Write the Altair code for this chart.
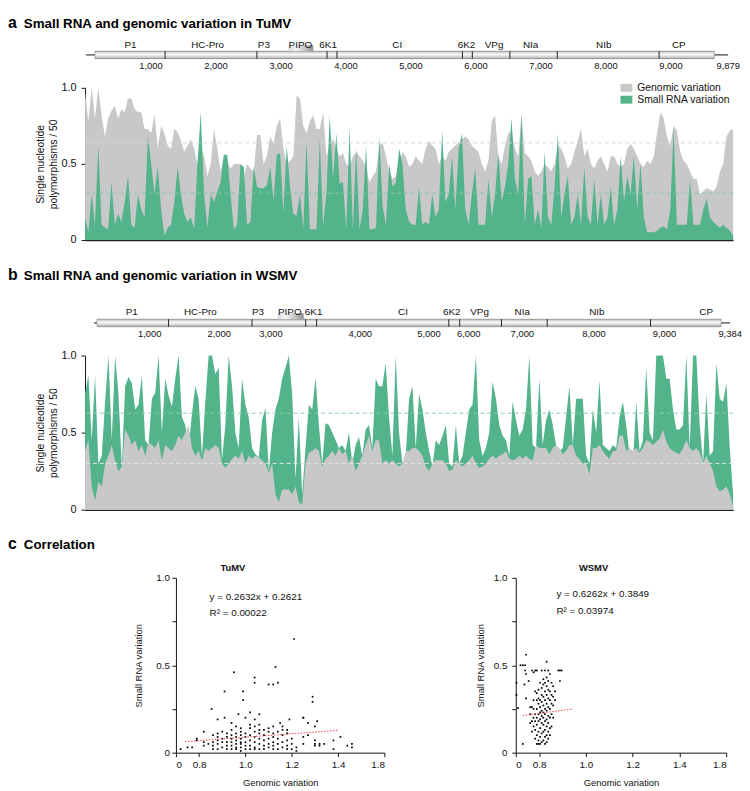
import altair as alt
import pandas as pd
import numpy as np

GREEN = "#53b38b"
GRAY = "#c8c8c8"
FONT = "Liberation Sans"
NARROW = "Liberation Sans Narrow, Liberation Sans"

# ---------------- Panel a : TuMV ----------------
tumv_length = 9879
tumv_genomic = [
    0.97, 0.78, 1.0, 0.8, 1.0, 0.82, 0.68, 0.8, 0.85, 0.88,
    0.8, 0.86, 0.84, 0.93, 0.93, 0.86, 0.84, 0.84, 0.73, 0.73,
    0.7, 0.83, 0.6, 0.75, 0.7, 0.62, 0.6, 0.73, 0.71, 0.65,
    0.58, 0.62, 0.66, 0.6, 0.5, 0.62, 0.55, 0.42, 0.5, 0.73,
    0.6, 0.45, 0.56, 0.52, 0.47, 0.5, 0.5, 0.5, 0.42, 0.5,
    0.47, 0.45, 0.69, 0.69, 0.5, 0.55, 0.68, 0.63, 0.75, 0.8,
    0.6, 0.5, 0.52, 0.55, 0.95, 0.93, 0.75, 0.7, 0.78, 0.82,
    0.73, 0.73, 0.84, 0.55, 0.62, 0.67, 0.6, 0.55, 0.57, 0.5,
    0.48, 0.55, 0.58, 0.55, 0.52, 0.48, 0.38, 0.42, 0.45,
    0.62, 0.64, 0.55, 0.45, 0.4, 0.42, 0.5, 0.58, 0.55, 0.48,
    0.5, 0.55, 0.52, 0.5, 0.6, 0.65, 0.62, 0.6, 0.5, 0.55,
    0.52, 0.58, 0.6, 0.62, 0.64, 0.66, 0.68, 0.66, 0.62, 0.6,
    0.58, 0.5, 0.45, 0.52, 0.78, 0.82, 0.55, 0.5, 0.62, 0.7,
    0.72, 0.6, 0.55, 0.83, 0.57, 0.55, 0.52, 0.45, 0.42, 0.45,
    0.5, 0.48, 0.45, 0.5, 0.62, 0.6, 0.55, 0.47, 0.5, 0.58,
    0.65, 0.73, 0.55, 0.6, 0.5, 0.47, 0.52, 0.55, 0.5, 0.45,
    0.55, 0.55, 0.5, 0.48, 0.5, 0.6, 0.63, 0.6, 0.55, 0.5,
    0.48, 0.52, 0.5, 0.55, 0.7, 0.84, 0.8, 0.68, 0.62, 0.75,
    0.72, 0.58, 0.52, 0.5, 0.45, 0.4, 0.4, 0.3, 0.32, 0.34,
    0.33, 0.32, 0.35, 0.45, 0.5, 0.68, 0.72, 0.73,
]
tumv_srna = [
    0.15, 0.05, 0.3, 0.1, 0.62, 0.1, 0.08, 0.07, 0.38, 0.1,
    0.17, 0.12, 0.25, 0.42, 0.1, 0.08, 0.3, 0.2, 0.15, 0.68,
    0.5, 0.3, 0.48, 0.2, 0.03, 0.08, 0.1, 0.25, 0.48, 0.3,
    0.17, 0.12, 0.15, 0.07, 0.5, 0.84, 0.3, 0.08, 0.3, 0.25,
    0.32, 0.38, 0.56, 0.56, 0.3, 0.07, 0.1, 0.5, 0.48, 0.1,
    0.12, 0.48, 0.35, 0.34, 0.34, 0.36, 0.48, 0.26, 0.56, 0.57,
    0.18, 0.62, 0.35, 0.17, 0.16, 0.3, 0.07, 0.65, 0.07, 0.07,
    0.07, 0.66, 0.1, 0.3, 0.82, 0.4, 0.7, 0.37, 0.38, 0.07,
    0.74, 0.07, 0.6, 0.07, 0.2, 0.62, 0.07, 0.07, 0.08,
    0.68, 0.22, 0.1, 0.5, 0.35, 0.38, 0.6, 0.5, 0.2, 0.12,
    0.1, 0.1, 0.35, 0.1, 0.12, 0.1, 0.3, 0.15, 0.2, 0.72,
    0.25, 0.3, 0.55, 0.2, 0.6, 0.7, 0.2, 0.1, 0.3, 0.47,
    0.1, 0.1, 0.1, 0.4, 0.15, 0.3, 0.57, 0.25, 0.35, 0.5,
    0.8, 0.4, 0.3, 0.83, 0.1, 0.4, 0.42, 0.1, 0.2, 0.08,
    0.58, 0.15, 0.1, 0.35, 0.7, 0.15, 0.3, 0.42, 0.1, 0.15,
    0.3, 0.1, 0.48, 0.15, 0.1, 0.4, 0.1, 0.3, 0.1, 0.15,
    0.35, 0.1, 0.2, 0.55, 0.25, 0.42, 0.3, 0.55, 0.2, 0.5,
    0.15, 0.05, 0.05, 0.05, 0.06, 0.08, 0.09, 0.07, 0.2, 0.73,
    0.1, 0.1, 0.1, 0.1, 0.4, 0.1, 0.1, 0.1, 0.2, 0.27,
    0.15, 0.12, 0.1, 0.08, 0.1, 0.08, 0.06, 0.03,
]
tumv_genomic_mean = 0.638
tumv_srna_mean = 0.307

tumv_genes = ["P1", "HC-Pro", "P3", "PIPO", "6K1", "CI", "6K2", "VPg", "NIa", "NIb", "CP"]
tumv_gene_label_pos = [684, 1870, 2736, 3298, 3724, 4788, 5852, 6278, 6840, 7965, 9120]
tumv_boundaries = [1216, 2629, 3708, 3861, 5791, 5943, 6521, 7250, 8816]
tumv_bar = [137, 9667]
tumv_pipo = [3116, 3496]
tumv_map_label_pos = [1000, 2000, 3000, 4000, 5000, 6000, 7000, 8000, 9000, 9879]
tumv_map_labels = ["1,000", "2,000", "3,000", "4,000", "5,000", "6,000", "7,000", "8,000", "9,000", "9,879"]
tumv_map_domain = [-15, 9955]

# ---------------- Panel b : WSMV ----------------
wsmv_length = 9384
wsmv_srna = [
    0.75, 0.87, 0.45, 0.87, 0.3, 0.35, 0.7, 1.0, 0.45, 1.0,
    0.75, 0.28, 0.8, 0.86, 0.82, 0.65, 0.68, 0.87, 0.45, 0.42,
    0.72, 0.76, 1.0, 0.5, 0.85, 0.74, 0.67, 0.85, 1.0, 0.6,
    0.55, 0.4, 0.62, 0.8, 0.72, 0.35, 0.7, 1.0, 1.0, 0.88,
    0.92, 0.32, 0.55, 1.0, 0.8, 0.5, 0.4, 0.85, 0.68, 0.6,
    0.4, 0.36, 0.34, 0.58, 0.66, 0.25, 0.5, 0.65, 0.72, 0.85,
    0.92, 1.0, 0.75, 0.2, 0.6, 0.1, 0.4, 0.68, 0.65, 0.86,
    0.55, 0.3, 0.56, 0.55, 0.5, 0.45, 0.4, 0.42, 0.38, 0.5,
    0.3, 0.42, 0.47, 0.35, 0.52, 0.55, 0.4, 0.85, 0.8,
    0.8, 0.95, 0.6, 0.35, 1.0, 0.5, 0.3, 0.35, 0.72, 0.8,
    0.4, 0.75, 0.65, 0.5, 0.38, 0.28, 0.45, 0.42, 0.48, 0.55,
    0.3, 0.28, 0.55, 0.3, 0.35, 0.5, 0.65, 0.68, 1.0, 0.45,
    0.35, 0.4, 0.5, 0.83, 0.72, 0.55, 0.48, 0.45, 0.35, 0.7,
    0.58, 0.48, 0.52, 0.65, 1.0, 0.42, 0.4, 0.85, 0.42, 0.58,
    0.65, 0.55, 0.42, 0.38, 0.4, 0.6, 0.8, 0.42, 0.72, 0.72,
    0.72, 0.35, 0.3, 0.65, 0.5, 0.84, 0.42, 0.4, 0.38, 0.42,
    0.4, 0.6, 0.7, 0.55, 0.35, 0.3, 0.7, 0.38, 0.45, 0.92,
    0.5, 0.45, 1.0, 1.0, 1.0, 0.85, 0.85, 0.65, 0.52, 0.52,
    0.55, 1.0, 0.4, 1.0, 1.0, 0.55, 0.3, 0.75, 0.35, 0.38,
    0.95, 0.72, 0.7, 0.82, 0.4, 0.1,
]
wsmv_genomic = [
    0.38, 0.45, 0.15, 0.06, 0.18, 0.15, 0.3, 0.35, 0.42, 0.32,
    0.25, 0.28, 0.52, 0.48, 0.42, 0.45, 0.38, 0.42, 0.35, 0.44,
    0.42, 0.4, 0.45, 0.32, 0.42, 0.4, 0.38, 0.42, 0.48, 0.45,
    0.5, 0.55, 0.4, 0.35, 0.38, 0.32, 0.4, 0.38, 0.4, 0.42,
    0.4, 0.3, 0.27, 0.3, 0.33, 0.35, 0.33, 0.38, 0.3, 0.35,
    0.33, 0.35, 0.34, 0.32, 0.3, 0.24, 0.3, 0.1, 0.05, 0.13,
    0.13, 0.13, 0.1, 0.15, 0.05, 0.03, 0.3, 0.37, 0.38, 0.4,
    0.38, 0.28, 0.33, 0.35, 0.38, 0.35, 0.4, 0.36, 0.38, 0.3,
    0.35, 0.25, 0.3, 0.35, 0.42, 0.48, 0.38, 0.45, 0.45,
    0.3, 0.32, 0.3, 0.32, 0.3, 0.28, 0.3, 0.38, 0.38, 0.4,
    0.4, 0.38, 0.35, 0.28, 0.25, 0.3, 0.32, 0.32, 0.32, 0.3,
    0.25, 0.26, 0.32, 0.3, 0.28, 0.3, 0.32, 0.35, 0.3, 0.27,
    0.28, 0.3, 0.33, 0.35, 0.33, 0.35, 0.36, 0.38, 0.33, 0.32,
    0.33, 0.35, 0.33, 0.35, 0.33, 0.32, 0.42, 0.4, 0.4, 0.4,
    0.36, 0.4, 0.42, 0.4, 0.36, 0.38, 0.42, 0.42, 0.35, 0.33,
    0.3, 0.3, 0.23, 0.4, 0.4, 0.42, 0.38, 0.35, 0.33, 0.38,
    0.38, 0.48, 0.48, 0.38, 0.4, 0.38, 0.4, 0.37, 0.4, 0.45,
    0.44, 0.42, 0.44, 0.46, 0.52, 0.44, 0.4, 0.38, 0.37, 0.36,
    0.4, 0.45, 0.4, 0.38, 0.4, 0.37, 0.3, 0.35, 0.3, 0.25,
    0.15, 0.12, 0.13, 0.15, 0.1, 0.02,
]
wsmv_srna_mean = 0.626
wsmv_genomic_mean = 0.30

wsmv_genes = ["P1", "HC-Pro", "P3", "PIPO", "6K1", "CI", "6K2", "VPg", "NIa", "NIb", "CP"]
wsmv_gene_label_pos = [557, 1569, 2419, 2888, 3240, 4559, 5278, 5688, 6318, 7418, 9031]
wsmv_boundaries = [1100, 2331, 3123, 3284, 5234, 5395, 6011, 6685, 8210]
wsmv_bar = [44, 9251]
wsmv_pipo = [2712, 3093]
wsmv_map_label_pos = [821, 1847, 2610, 3929, 4941, 5527, 6319, 7375, 8416, 9384]
wsmv_map_labels = ["1,000", "2,000", "3,000", "4,000", "5,000", "6,000", "7,000", "8,000", "9,000", "9,384"]
wsmv_map_domain = [-132, 9428]

# ---------------- Panel c : correlation ----------------
tumv_points = [
    (0.72, 0.02), (0.75, 0.03), (0.77, 0.03), (0.79, 0.07), (0.79, 0.08),
    (0.82, 0.04), (0.82, 0.06), (0.82, 0.12), (0.84, 0.05),
    (0.86, 0.02), (0.86, 0.04), (0.86, 0.06), (0.86, 0.10),
    (0.88, 0.02), (0.88, 0.05), (0.88, 0.07), (0.88, 0.09), (0.88, 0.11), (0.88, 0.19),
    (0.90, 0.03), (0.90, 0.06), (0.90, 0.08), (0.90, 0.12),
    (0.92, 0.02), (0.92, 0.04), (0.92, 0.06), (0.92, 0.09), (0.92, 0.11),
    (0.94, 0.02), (0.94, 0.04), (0.94, 0.06), (0.94, 0.08), (0.94, 0.10), (0.94, 0.13), (0.94, 0.17),
    (0.96, 0.02), (0.96, 0.03), (0.96, 0.05), (0.96, 0.07), (0.96, 0.09), (0.96, 0.11), (0.96, 0.15),
    (0.98, 0.01), (0.98, 0.03), (0.98, 0.05), (0.98, 0.06), (0.98, 0.08), (0.98, 0.10), (0.98, 0.12), (0.98, 0.14),
    (1.00, 0.02), (1.00, 0.04), (1.00, 0.06), (1.00, 0.09), (1.00, 0.11), (1.00, 0.20),
    (1.02, 0.02), (1.02, 0.04), (1.02, 0.07), (1.02, 0.10), (1.02, 0.14), (1.02, 0.16),
    (1.04, 0.02), (1.04, 0.03), (1.04, 0.06), (1.04, 0.09), (1.04, 0.12), (1.04, 0.15), (1.04, 0.19),
    (1.06, 0.02), (1.06, 0.05), (1.06, 0.08), (1.06, 0.11), (1.06, 0.13), (1.06, 0.16),
    (1.08, 0.02), (1.08, 0.04), (1.08, 0.07), (1.08, 0.10), (1.08, 0.13),
    (1.10, 0.03), (1.10, 0.05), (1.10, 0.08), (1.10, 0.12), (1.10, 0.14),
    (1.12, 0.02), (1.12, 0.04), (1.12, 0.06), (1.12, 0.09), (1.12, 0.11), (1.12, 0.15),
    (1.14, 0.02), (1.14, 0.05), (1.14, 0.08), (1.14, 0.12),
    (1.16, 0.03), (1.16, 0.06), (1.16, 0.10), (1.16, 0.13), (1.16, 0.15),
    (1.18, 0.02), (1.18, 0.04), (1.18, 0.07), (1.18, 0.11), (1.18, 0.13),
    (1.20, 0.02), (1.20, 0.05), (1.20, 0.08), (1.22, 0.01), (1.22, 0.03),
    (1.25, 0.05), (1.25, 0.09), (1.25, 0.20), (1.27, 0.10), (1.27, 0.17),
    (1.30, 0.04), (1.30, 0.05), (1.30, 0.07), (1.30, 0.15), (1.32, 0.04), (1.32, 0.05),
    (1.34, 0.05), (1.38, 0.02), (1.38, 0.07), (1.41, 0.09), (1.44, 0.04), (1.46, 0.03), (1.46, 0.05),
    (0.854, 0.25), (0.91, 0.35), (0.91, 0.20), (0.95, 0.46), (0.99, 0.35), (0.99, 0.30),
    (1.04, 0.43), (1.04, 0.40), (1.10, 0.39), (1.12, 0.39), (1.13, 0.49), (1.14, 0.40),
    (1.21, 0.65), (1.29, 0.32), (1.29, 0.29), (1.25, 0.20), (0.97, 0.22), (1.02, 0.23),
    (1.06, 0.22), (1.31, 0.18), (1.19, 0.19), (1.15, 0.17),
]
wsmv_points = [
    (0.703, 0.40), (0.703, 0.33), (0.71, 0.255), (0.72, 0.50), (0.73, 0.50), (0.74, 0.50),
    (0.744, 0.56), (0.74, 0.47), (0.744, 0.45), (0.737, 0.39), (0.755, 0.41), (0.744, 0.31), (0.73, 0.05),
    (0.762, 0.17), (0.762, 0.22), (0.762, 0.26),
    (0.769, 0.12), (0.769, 0.18), (0.769, 0.26), (0.769, 0.47),
    (0.776, 0.15), (0.776, 0.20), (0.776, 0.25), (0.776, 0.30), (0.776, 0.46),
    (0.783, 0.08), (0.783, 0.13), (0.783, 0.18), (0.783, 0.22), (0.783, 0.35), (0.783, 0.47),
    (0.790, 0.05), (0.790, 0.10), (0.790, 0.16), (0.790, 0.20), (0.790, 0.25), (0.790, 0.30), (0.790, 0.34), (0.790, 0.47),
    (0.797, 0.05), (0.797, 0.07), (0.797, 0.12), (0.797, 0.18), (0.797, 0.22), (0.797, 0.28), (0.797, 0.31), (0.797, 0.36),
    (0.804, 0.05), (0.804, 0.09), (0.804, 0.14), (0.804, 0.19), (0.804, 0.23), (0.804, 0.26), (0.804, 0.30), (0.804, 0.40),
    (0.811, 0.06), (0.811, 0.11), (0.811, 0.17), (0.811, 0.21), (0.811, 0.24), (0.811, 0.29), (0.811, 0.33), (0.811, 0.37), (0.811, 0.47),
    (0.818, 0.07), (0.818, 0.12), (0.818, 0.16), (0.818, 0.20), (0.818, 0.23), (0.818, 0.27), (0.818, 0.32), (0.818, 0.39), (0.818, 0.42),
    (0.825, 0.05), (0.825, 0.09), (0.825, 0.13), (0.825, 0.18), (0.825, 0.22), (0.825, 0.25), (0.825, 0.30), (0.825, 0.35), (0.825, 0.40), (0.825, 0.47),
    (0.832, 0.06), (0.832, 0.10), (0.832, 0.15), (0.832, 0.19), (0.832, 0.24), (0.832, 0.28), (0.832, 0.33), (0.832, 0.38), (0.832, 0.43), (0.832, 0.52),
    (0.839, 0.08), (0.839, 0.12), (0.839, 0.17), (0.839, 0.21), (0.839, 0.26), (0.839, 0.31), (0.839, 0.36), (0.839, 0.41), (0.839, 0.47),
    (0.846, 0.10), (0.846, 0.14), (0.846, 0.20), (0.846, 0.25), (0.846, 0.30), (0.846, 0.35), (0.846, 0.45),
    (0.853, 0.15), (0.853, 0.22), (0.853, 0.28), (0.853, 0.33), (0.853, 0.40),
    (0.860, 0.20), (0.860, 0.27), (0.860, 0.32), (0.860, 0.38),
    (0.868, 0.30), (0.868, 0.35), (0.882, 0.47), (0.889, 0.41), (0.889, 0.47), (0.896, 0.47),
]
tumv_fit_x = [0.74, 1.40]
tumv_fit_y = [0.063, 0.128]
wsmv_fit_x = [0.73, 0.945]
wsmv_fit_y = [0.212, 0.25]
scatter_x_ticks = [0.7, 0.8, 1.0, 1.2, 1.4, 1.6]
scatter_x_tick_labels = ["0", "0.8", "1.0", "1.2", "1.4", "1.8"]
y_ticks = [0, 0.25, 0.5, 0.75, 1.0]
y_tick_labels = ["0", "", "0.5", "", "1.0"]
legend_names = ["Genomic variation", "Small RNA variation"]

PLOT_W = 656
LETTER_SIZE = 16
TITLE_SIZE = 13.5


def label_expr(values, labels):
    expr = "''"
    for v, l in zip(values[::-1], labels[::-1]):
        expr = f"abs(datum.value - {v}) < 0.001 ? '{l}' : ({expr})"
    return expr


def title_layers(letter, text, base):
    # base = desired alphabetic baseline (row coordinates); drawn with 'top' baseline
    d = pd.DataFrame({"letter": [letter], "text": [text]})
    l1 = alt.Chart(d).mark_text(align="left", baseline="top", fontSize=LETTER_SIZE,
                                fontWeight="bold", font=FONT, color="black").encode(
        x=alt.value(-78), y=alt.value(base - 0.79 * LETTER_SIZE), text="letter:N")
    l2 = alt.Chart(d).mark_text(align="left", baseline="top", fontSize=TITLE_SIZE,
                                fontWeight="bold", font=FONT, color="black").encode(
        x=alt.value(-62), y=alt.value(base - 0.79 * TITLE_SIZE), text="text:N")
    return [l1, l2]


def genome_map(length, domain, genes, gene_pos, bounds, bar, pipo, tick_pos, tick_labels,
               cy, label_dy, height, letter, title, title_base):
    xs = alt.Scale(domain=domain, zero=False, nice=False)
    half = 3.8
    tail = alt.Chart(pd.DataFrame({"s": [0], "e": [length]})).mark_rule(
        color="#111", strokeWidth=1).encode(
        x=alt.X("s:Q", scale=xs, axis=None), x2="e:Q", y=alt.value(cy))
    bar_grad = alt.Gradient(gradient="linear", x1=0, x2=0, y1=0, y2=1, stops=[
        alt.GradientStop(color="#9a9a9a", offset=0),
        alt.GradientStop(color="#d9d9d9", offset=0.18),
        alt.GradientStop(color="#f8f8f8", offset=0.45),
        alt.GradientStop(color="#e0e0e0", offset=0.62),
        alt.GradientStop(color="#c6c6c6", offset=0.85),
        alt.GradientStop(color="#8c8c8c", offset=1)])
    barm = alt.Chart(pd.DataFrame({"s": [bar[0]], "e": [bar[1]]})).mark_rect(
        fill=bar_grad, stroke="#7a7a7a", strokeWidth=0.5).encode(
        x=alt.X("s:Q", scale=xs, axis=None), x2="e:Q",
        y=alt.value(cy - half), y2=alt.value(cy + half))
    divs = alt.Chart(pd.DataFrame({"b": bounds})).mark_rule(color="#222", strokeWidth=1).encode(
        x=alt.X("b:Q", scale=xs, axis=None), y=alt.value(cy - half), y2=alt.value(cy + half))
    pipo_grad = alt.Gradient(gradient="linear", x1=0, x2=1, y1=0, y2=0, stops=[
        alt.GradientStop(color="#d8d8d8", offset=0),
        alt.GradientStop(color="#f6f6f6", offset=0.3),
        alt.GradientStop(color="#b8b8b8", offset=0.75),
        alt.GradientStop(color="#8e8e8e", offset=1)])
    pipom = alt.Chart(pd.DataFrame({"s": [pipo[0]], "e": [pipo[1]]})).mark_rect(
        fill=pipo_grad).encode(
        x=alt.X("s:Q", scale=xs, axis=None), x2="e:Q",
        y=alt.value(cy - half - 6.2), y2=alt.value(cy - half))
    glab = alt.Chart(pd.DataFrame({"g": genes, "p": gene_pos})).mark_text(
        fontSize=10, font=FONT, color="#111", baseline="middle").encode(
        x=alt.X("p:Q", scale=xs, axis=None), y=alt.value(cy + label_dy), text="g:N")
    nlab = alt.Chart(pd.DataFrame({"t": tick_labels, "p": tick_pos})).mark_text(
        fontSize=9.5, font=NARROW, color="#111", baseline="middle").encode(
        x=alt.X("p:Q", scale=xs, axis=None), y=alt.value(cy + 11.5), text="t:N")
    layers = [tail, barm, divs, pipom, glab, nlab] + title_layers(letter, title, title_base)
    return alt.layer(*layers).properties(width=PLOT_W, height=height)


def y_axis():
    return alt.Axis(values=y_ticks, labelExpr=label_expr(y_ticks, y_tick_labels), grid=False,
                    tickSize=4, tickColor="#111", domainColor="#111", domainWidth=1,
                    labelFontSize=11, labelColor="#111", labelPadding=5, labelFont=FONT,
                    title=["Single nucleotide", "polymorphisms / 50"], titleFontSize=10.5,
                    titleFontWeight="normal", titleFont=FONT, titleColor="#111", titlePadding=3)


def x_axis():
    return alt.Axis(domain=True, ticks=False, labels=False, title=None, grid=False,
                    domainColor="#222", domainWidth=1.5)


def area_panel(length, genomic, srna, g_mean, s_mean, height, top_series,
               g_dash, s_dash, with_legend):
    xs = alt.Scale(domain=[0, length], zero=False, nice=False)
    ys = alt.Scale(domain=[0, 1], nice=False)
    gdf = pd.DataFrame({"pos": np.linspace(0, length, len(genomic)), "v": genomic,
                        "series": legend_names[0]})
    sdf = pd.DataFrame({"pos": np.linspace(0, length, len(srna)), "v": srna,
                        "series": legend_names[1]})
    if with_legend:
        cscale = alt.Scale(domain=legend_names, range=[GRAY, GREEN])
        leg = alt.Legend(orient="none", legendX=542, legendY=-6, title=None, padding=0,
                         symbolType="M-1,-0.667H1V0.667H-1Z", symbolSize=144,
                         symbolStrokeWidth=0, symbolOpacity=1, labelFontSize=10.5,
                         labelFont=FONT, labelColor="#111", labelOffset=5, rowPadding=0)
        g = alt.Chart(gdf).mark_area(interpolate="linear", opacity=1).encode(
            x=alt.X("pos:Q", scale=xs, axis=x_axis()),
            y=alt.Y("v:Q", scale=ys, axis=y_axis()),
            color=alt.Color("series:N", scale=cscale, legend=leg))
        s = alt.Chart(sdf).mark_area(interpolate="linear", opacity=1).encode(
            x=alt.X("pos:Q", scale=xs, axis=x_axis()),
            y=alt.Y("v:Q", scale=ys, axis=y_axis()),
            color=alt.Color("series:N", scale=cscale, legend=leg))
    else:
        g = alt.Chart(gdf).mark_area(interpolate="linear", color=GRAY, opacity=1).encode(
            x=alt.X("pos:Q", scale=xs, axis=x_axis()),
            y=alt.Y("v:Q", scale=ys, axis=y_axis()))
        s = alt.Chart(sdf).mark_area(interpolate="linear", color=GREEN, opacity=1).encode(
            x=alt.X("pos:Q", scale=xs, axis=x_axis()),
            y=alt.Y("v:Q", scale=ys, axis=y_axis()))
    gr = alt.Chart(pd.DataFrame({"m": [g_mean]})).mark_rule(
        color=g_dash, strokeDash=[4, 3], strokeWidth=1).encode(y=alt.Y("m:Q", scale=ys))
    sr = alt.Chart(pd.DataFrame({"m": [s_mean]})).mark_rule(
        color=s_dash, strokeDash=[4, 3], strokeWidth=1).encode(y=alt.Y("m:Q", scale=ys))
    layers = [g, s] if top_series == "srna" else [s, g]
    return alt.layer(*layers, gr, sr).properties(width=PLOT_W, height=height)


def scatter(points, fit_x, fit_y, name, eq, r2, eq_x, eq_y, r2_y, width, height,
            title_x, label_pad, title_pad):
    xs = alt.Scale(domain=[0.7, 1.6], zero=False, nice=False)
    ys = alt.Scale(domain=[0, 1], nice=False)
    xa = alt.Axis(values=scatter_x_ticks, labelExpr=label_expr(scatter_x_ticks, scatter_x_tick_labels),
                  grid=False, tickSize=4, tickColor="#111", domainColor="#111",
                  labelFontSize=10, labelFont=FONT, labelColor="#111", labelPadding=3,
                  title="Genomic variation", titleFontSize=9.5, titleFontWeight="normal",
                  titleFont=FONT, titleColor="#111", titlePadding=8)
    ya = alt.Axis(values=y_ticks, labelExpr=label_expr(y_ticks, y_tick_labels), grid=False,
                  tickSize=4, tickColor="#111", domainColor="#111", labelFontSize=10,
                  labelFont=FONT, labelColor="#111", labelPadding=label_pad,
                  title="Small RNA variation", titleFontSize=9.5, titleFontWeight="normal",
                  titleFont=FONT, titleColor="#111", titlePadding=title_pad)
    pdf = pd.DataFrame(points, columns=["x", "y"])
    pts = alt.Chart(pdf).mark_square(size=3, color="#000", opacity=1).encode(
        x=alt.X("x:Q", scale=xs, axis=xa), y=alt.Y("y:Q", scale=ys, axis=ya))
    fit = alt.Chart(pd.DataFrame({"x": fit_x, "y": fit_y})).mark_line(
        color="#e8434f", strokeDash=[1.5, 1.5], strokeWidth=1).encode(
        x=alt.X("x:Q", scale=xs), y=alt.Y("y:Q", scale=ys))
    ann = alt.Chart(pd.DataFrame({"x": [eq_x, eq_x], "y": [eq_y, r2_y], "t": [eq, r2]})).mark_text(
        align="left", baseline="middle", fontSize=10, font=FONT, color="#111").encode(
        x=alt.X("x:Q", scale=xs), y=alt.Y("y:Q", scale=ys), text="t:N")
    ttl = alt.Chart(pd.DataFrame({"t": [name]})).mark_text(
        align="left", baseline="alphabetic", fontSize=9.5, fontWeight="bold", font=FONT,
        color="#111").encode(x=alt.value(title_x), y=alt.value(-7), text="t:N")
    return alt.layer(pts, fit, ann, ttl).properties(width=width, height=height)


def spacer(w, h):
    return alt.Chart(pd.DataFrame({"a": [0]})).mark_point(opacity=0).encode(
        x=alt.value(0), y=alt.value(0)).properties(width=w, height=h)


row1 = genome_map(tumv_length, tumv_map_domain, tumv_genes, tumv_gene_label_pos, tumv_boundaries,
                  tumv_bar, tumv_pipo, tumv_map_label_pos, tumv_map_labels,
                  cy=48.7, label_dy=-9.8, height=82, letter="a",
                  title="Small RNA and genomic variation in TuMV", title_base=21)
row2 = area_panel(tumv_length, tumv_genomic, tumv_srna, tumv_genomic_mean, tumv_srna_mean,
                  height=154, top_series="srna", g_dash="#d4d4d4", s_dash="#86c7a5",
                  with_legend=True)
row3 = genome_map(wsmv_length, wsmv_map_domain, wsmv_genes, wsmv_gene_label_pos, wsmv_boundaries,
                  wsmv_bar, wsmv_pipo, wsmv_map_label_pos, wsmv_map_labels,
                  cy=84, label_dy=-11.3, height=117, letter="b",
                  title="Small RNA and genomic variation in WSMV", title_base=40)
row4 = area_panel(wsmv_length, wsmv_genomic, wsmv_srna, wsmv_genomic_mean, wsmv_srna_mean,
                  height=156, top_series="genomic", g_dash="#e4e4e4", s_dash="#8ad0ad",
                  with_legend=False)
row5 = alt.layer(*title_layers("c", "Correlation", 39)).properties(width=PLOT_W, height=69)

tumv_sc = scatter(tumv_points, tumv_fit_x, tumv_fit_y, "TuMV", "y = 0.2632x + 0.2621",
                  "R² = 0.00022", 0.845, 0.891, 0.797, 211, 177, 45, 2.5, 12)
wsmv_sc = scatter(wsmv_points, wsmv_fit_x, wsmv_fit_y, "WSMV", "y = 0.6262x + 0.3849",
                  "R² = 0.03974", 0.874, 0.91, 0.808, 213, 177, 64, 5, 8)
row6 = alt.hconcat(spacer(92, 177), tumv_sc, spacer(133, 177), wsmv_sc, spacing=0, bounds="flush")

chart = alt.vconcat(row1, row2, row3, row4, row5, row6, spacing=0, bounds="flush").resolve_scale(
    color="independent").properties(
    padding={"left": 0, "top": -6, "right": 0, "bottom": 0}).configure(
    font=FONT).configure_view(stroke=None)

chart.save("out.html", embed_options={"renderer": "svg", "actions": False})
